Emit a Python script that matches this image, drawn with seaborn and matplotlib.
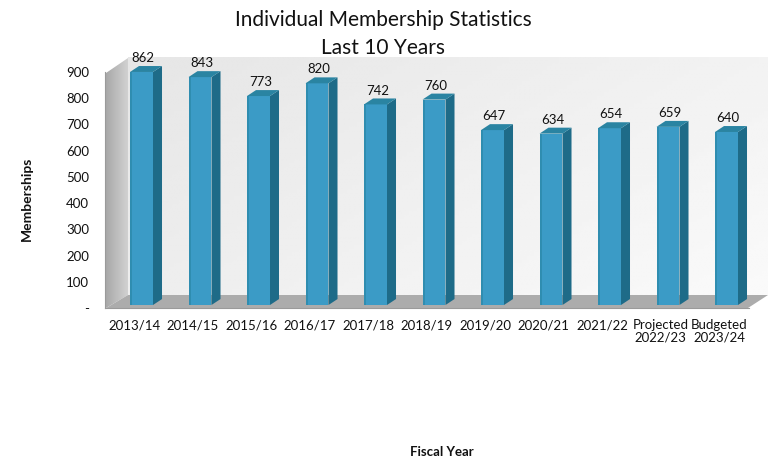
import numpy as np
import pandas as pd
import matplotlib
matplotlib.use("Agg")
import matplotlib.pyplot as plt
from matplotlib.patches import Polygon
import seaborn as sns

# ---- data -------------------------------------------------------------
years = ["2013/14", "2014/15", "2015/16", "2016/17", "2017/18", "2018/19",
         "2019/20", "2020/21", "2021/22", "Projected\n2022/23", "Budgeted\n2023/24"]
memberships = [862, 843, 773, 820, 742, 760, 647, 634, 654, 659, 640]
y_ticks = [0, 100, 200, 300, 400, 500, 600, 700, 800, 900]
y_tick_labels = ["-", "100", "200", "300", "400", "500", "600", "700", "800", "900"]

df = pd.DataFrame({"year": years, "members": memberships})

sns.set_theme(style="white")
plt.rcParams["font.family"] = ["Lato", "DejaVu Sans"]

W, H = 772, 461
fig = plt.figure(figsize=(W / 100, H / 100), dpi=100)
fig.patch.set_facecolor("white")


def box(x0, y0, x1, y1):
    """Axes rectangle from pixel corners (origin top-left)."""
    return [x0 / W, 1 - y1 / H, (x1 - x0) / W, (y1 - y0) / H]


# ---- backdrop: walls and floor of the 3-D box (pixel space) -------------
bg = fig.add_axes([0, 0, 1, 1], zorder=0)
bg.set_xlim(0, W)
bg.set_ylim(H, 0)
bg.axis("off")

# back wall with a soft gradient
gx = np.linspace(0.0, 1.0, 256)[None, :]
gy = np.linspace(0.0, 1.0, 64)[:, None]
wall = 0.90 + 0.05 * gx + 0.03 * gy
bg.imshow(wall, cmap="gray", vmin=0, vmax=1, extent=(128, 768, 295, 58),
          aspect="auto", interpolation="bilinear", zorder=1)
# left side wall
lw = np.linspace(0.66, 0.82, 64)[None, :]
img = bg.imshow(lw, cmap="gray", vmin=0, vmax=1, extent=(106, 128, 308, 58),
                aspect="auto", interpolation="bilinear", zorder=2)
img.set_clip_path(Polygon([(106, 73), (128, 58), (128, 295), (106, 308)],
                          closed=True, transform=bg.transData))
# floor
bg.add_patch(Polygon([(106, 308), (128, 295), (768, 295), (748, 308)],
                     closed=True, facecolor="#acacac", edgecolor="none", zorder=3))

# ---- axis frame, ticks and labels -------------------------------------
ax = fig.add_axes(box(105, 72, 748.5, 308), zorder=1)
ax.set_facecolor("none")
ax.set_xlim(-0.5, len(years) - 0.5)
ax.set_ylim(0, 900)
for s in ["top", "right"]:
    ax.spines[s].set_visible(False)
for s in ["left", "bottom"]:
    ax.spines[s].set_color("#9a9a9a")
    ax.spines[s].set_linewidth(0.8)
ax.set_yticks(y_ticks)
ax.set_yticklabels(y_tick_labels, fontsize=9.5, color="#111111")
ax.set_xticks(range(len(years)))
ax.set_xticklabels(years, fontsize=9.5, color="#111111", linespacing=1.0)
ax.set_xticks(np.arange(-0.5, len(years)), minor=True)
ax.tick_params(axis="x", which="major", length=0, pad=8)
ax.tick_params(axis="x", which="minor", length=4, width=0.8, color="#9a9a9a",
               direction="out")
ax.tick_params(axis="y", length=4, width=0.8, color="#9a9a9a", direction="out",
               pad=7.5)

fig.text(27 / W, 1 - 199 / H, "Memberships", rotation=90, ha="center",
         va="center", fontsize=10, fontweight="bold", color="#111111")
fig.text(442 / W, 1 - 452 / H, "Fiscal Year", ha="center", va="center",
         fontsize=9.5, fontweight="bold", color="#111111")

# ---- bars -------------------------------------------------------------
bx = fig.add_axes(box(105, 61.7, 748.5, 305), zorder=2)
bx.set_facecolor("none")
front, side, top = "#3b9bc6", "#1e6b88", "#2a84a2"
bar_w = 0.393
sns.barplot(data=df, x="year", y="members", ax=bx, color=front,
            saturation=1, width=bar_w, order=years)
bx.set_xlim(-0.5, len(years) - 0.5)
bx.set_ylim(0, 900)
bx.axis("off")

shift = 0.124     # bars sit a little right of the slot centre (3-D view)
dx, dy = 0.154, 22  # depth offset in data units
for patch, v in zip(bx.patches, memberships):
    patch.set_x(patch.get_x() + shift)
    patch.set_edgecolor("none")
    patch.set_clip_on(False)
    xl = patch.get_x()
    xr = xl + patch.get_width()
    h = patch.get_height()
    # darker left edge of the rounded front face
    bx.add_patch(Polygon([(xl, 0), (xl + 0.04, 0), (xl + 0.04, h), (xl, h)],
                         closed=True, facecolor="#2f8db0", edgecolor="none",
                         clip_on=False))
    bx.add_patch(Polygon([(xr, 0), (xr + dx, dy), (xr + dx, h + dy), (xr, h)],
                         closed=True, facecolor=side, edgecolor="none",
                         clip_on=False))
    bx.add_patch(Polygon([(xl, h), (xr, h), (xr + dx, h + dy), (xl + dx, h + dy)],
                         closed=True, facecolor=top, edgecolor="none",
                         clip_on=False))
    bx.annotate(f"{v}", xy=((xl + xr) / 2 + 0.03, h), xytext=(0, 10),
                textcoords="offset points", ha="center", va="center",
                fontsize=9.5, color="#111111", annotation_clip=False)

# ---- title ------------------------------------------------------------
fig.text(383 / W, 1 - 20 / H, "Individual Membership Statistics",
         ha="center", va="center", fontsize=15, color="#111111")
fig.text(383 / W, 1 - 48 / H, "Last 10 Years",
         ha="center", va="center", fontsize=15, color="#111111")

fig.savefig("out.png", dpi=100, facecolor="white")
